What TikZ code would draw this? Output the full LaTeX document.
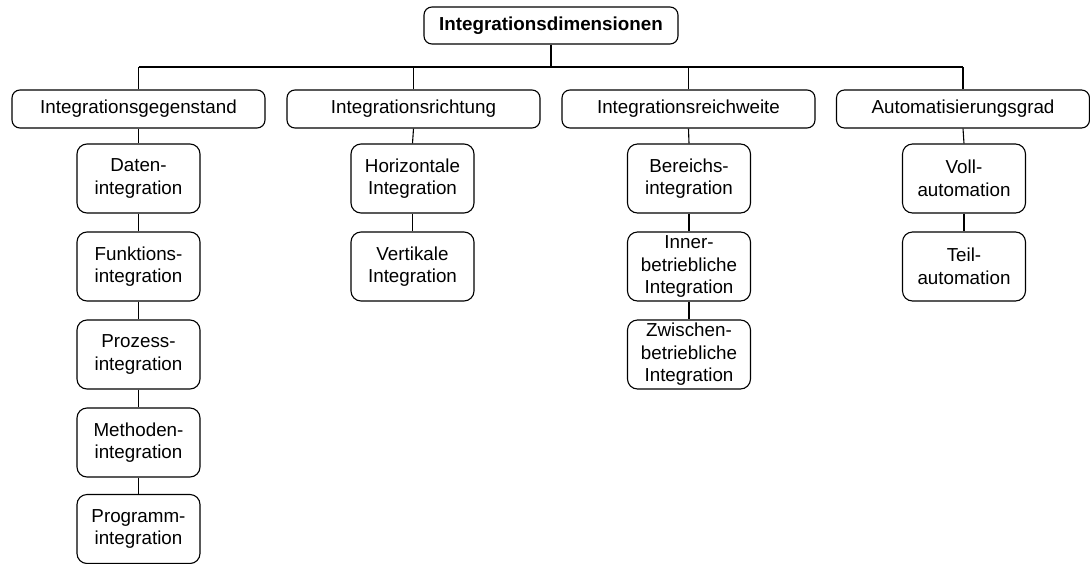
\documentclass[tikz,border=0pt]{standalone}
\usepackage{fontspec}
\setmainfont{Liberation Sans}
\begin{document}
\begin{tikzpicture}[x=1pt,y=-1pt,
  every node/.style={font=\fontsize{18.8}{22.5}\selectfont, inner sep=0pt, align=center},
  rootbox/.style={draw, line width=1.1pt, rounded corners=8pt, minimum width=254pt, minimum height=37pt, font=\fontsize{18.8}{22.5}\selectfont\bfseries},
  dimbox/.style={draw, line width=1.1pt, rounded corners=8pt, minimum width=253pt, minimum height=38pt},
  itembox/.style={draw, line width=1.1pt, rounded corners=10pt, minimum width=123pt, minimum height=69pt},
  link/.style={line width=1.1pt}]
\useasboundingbox (0,0) rectangle (1090,563);

% root
\node[rootbox] (root) at (551,25.5) {Integrationsdimensionen};

% dimensions
\node[dimbox] (d1) at (138.5,109) {Integrationsgegenstand};
\node[dimbox] (d2) at (413.5,109) {Integrationsrichtung};
\node[dimbox] (d3) at (688.5,109) {Integrationsreichweite};
\node[dimbox] (d4) at (963,109) {Automatisierungsgrad};

% bus line
\coordinate (busL) at (138.5,67);
\coordinate (busR) at (963,67);
\draw[link] (busL) -- (busR);
\draw[link] (root.south) -- (root.south |- busL);
\foreach \d in {d1,d2,d3,d4} \draw[link] (\d.north) -- (\d.north |- busL);

% column 1
\node[itembox] (a1) at (138.5,178.5) {Daten-\\integration};
\node[itembox] (a2) at (138.5,266.5) {Funktions-\\integration};
\node[itembox] (a3) at (138.5,354.5) {Prozess-\\integration};
\node[itembox] (a4) at (138.5,442.5) {Methoden-\\integration};
\node[itembox] (a5) at (138.5,529) {Programm-\\integration};

% column 2
\node[itembox] (b1) at (412.5,178.5) {Horizontale\\Integration};
\node[itembox] (b2) at (412.5,266.5) {Vertikale\\Integration};

% column 3
\node[itembox] (c1) at (689,178.5) {Bereichs-\\integration};
\node[itembox] (c2) at (689,266.5) {Inner-\\betriebliche\\Integration};
\node[itembox] (c3) at (689,354.5) {Zwischen-\\betriebliche\\Integration};

% column 4
\node[itembox] (e1) at (964,178.5) {Voll-\\automation};
\node[itembox] (e2) at (964,266.5) {Teil-\\automation};

% vertical links
\draw[link] (d1.south) -- (a1.north);
\draw[link] (a1.south) -- (a2.north);
\draw[link] (a2.south) -- (a3.north);
\draw[link] (a3.south) -- (a4.north);
\draw[link] (a4.south) -- (a5.north);
\draw[link] (d2.south) -- (b1.north);
\draw[link] (b1.south) -- (b2.north);
\draw[link] (d3.south) -- (c1.north);
\draw[link] (c1.south) -- (c2.north);
\draw[link] (c2.south) -- (c3.north);
\draw[link] (d4.south) -- (e1.north);
\draw[link] (e1.south) -- (e2.north);
\end{tikzpicture}
\end{document}
